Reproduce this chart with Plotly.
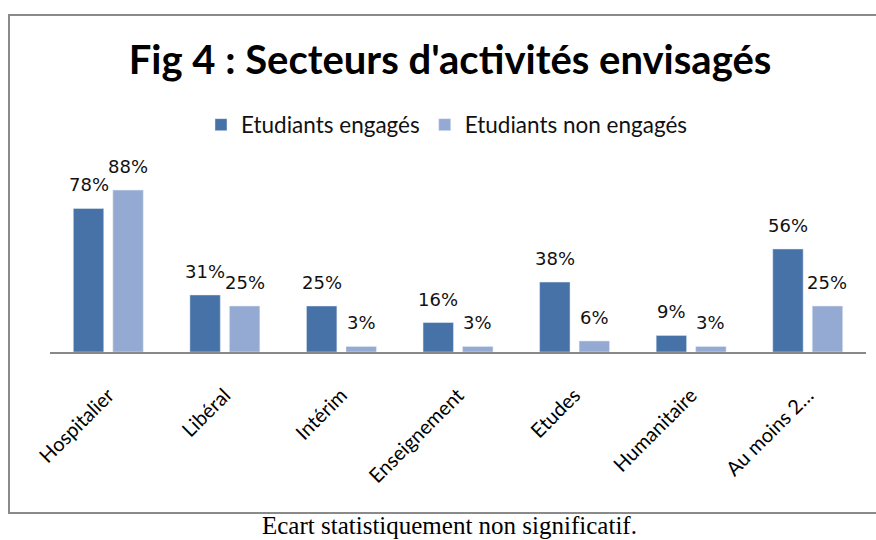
import plotly.graph_objects as go

categories = ["Hospitalier", "Libéral", "Intérim", "Enseignement", "Etudes", "Humanitaire", "Au moins 2…"]
engages = [78, 31, 25, 16, 38, 9, 56]
non_engages = [88, 25, 3, 3, 6, 3, 25]
series_names = ["Etudiants engagés", "Etudiants non engagés"]
title_text = "Fig 4 : Secteurs d'activités envisagés"
caption_text = "Ecart statistiquement non significatif."

dark = "#4672A8"
light = "#95AAD2"

W, H = 876, 540
L, R, T, B = 50, 10, 168, 188
pw = W - L - R
ph = H - T - B

fig = go.Figure()
fig.add_trace(go.Bar(x=categories, y=engages, name=series_names[0], marker_color=dark))
fig.add_trace(go.Bar(x=categories, y=non_engages, name=series_names[1], marker_color=light))

annotations = []
for vals, shift in ((engages, -19.75), (non_engages, 19.75)):
    for c, v in zip(categories, vals):
        annotations.append(dict(x=c, y=v, xref="x", yref="y", text=f"{v}%", showarrow=False,
                                xshift=shift, yshift=11, yanchor="bottom",
                                font=dict(family="DejaVu Sans", size=18, color="#111111")))

annotations.append(dict(x=(449 - L) / pw, y=(H - B - 525) / ph, xref="paper", yref="paper",
                        text=caption_text, showarrow=False, xanchor="center", yanchor="middle",
                        font=dict(family="Liberation Serif", size=25, color="#000000")))

fig.update_layout(
    width=W, height=H,
    margin=dict(l=L, r=R, t=T, b=B),
    paper_bgcolor="white", plot_bgcolor="white",
    barmode="group", bargap=0.322, bargroupgap=0.23,
    title=dict(text=title_text, xref="container", yref="container", x=450 / W, y=1 - 60 / H,
               xanchor="center", yanchor="middle",
               font=dict(family="Lato", size=40, color="#000000", weight="bold")),
    legend=dict(orientation="h", x=(447 - L) / pw, xanchor="center", y=1 + (T - 125) / ph, yanchor="middle",
                font=dict(family="Lato", size=22.5, color="#111111"), bgcolor="rgba(0,0,0,0)"),
    showlegend=True,
    annotations=annotations,
    shapes=[dict(type="rect", xref="paper", yref="paper",
                 x0=(9 - L) / pw, x1=(882 - L) / pw,
                 y0=(H - B - 513) / ph, y1=(H - B - 15) / ph,
                 line=dict(color="#8a8a8a", width=2), fillcolor="rgba(0,0,0,0)", layer="below")],
)
fig.update_xaxes(showline=True, linecolor="#888888", linewidth=1.5, tickangle=-45,
                 ticks="outside", ticklen=22, tickcolor="rgba(0,0,0,0)",
                 tickfont=dict(family="Lato", size=20, color="#000000"), showgrid=False)
fig.update_yaxes(range=[0, 100], visible=False, showgrid=False)

fig.write_html("out.html", config={"displayModeBar": False},
               post_script="document.body.style.margin='0';")
